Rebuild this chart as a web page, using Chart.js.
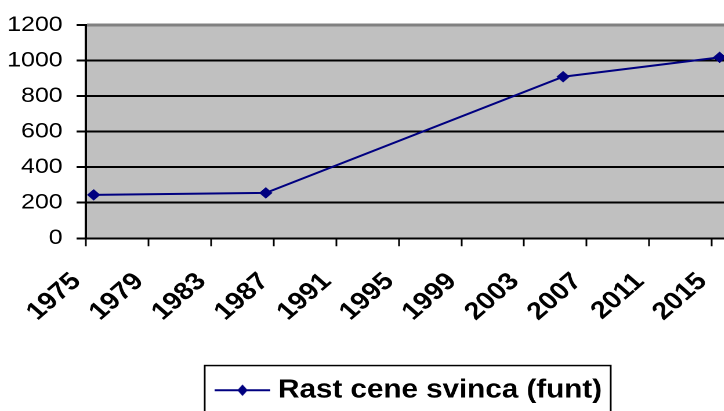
<!DOCTYPE html>
<html><head><meta charset="utf-8">
<script src="https://cdn.jsdelivr.net/npm/chart.js@4"></script>
<style>
html,body{margin:0;padding:0;overflow:hidden;background:#fff;width:724px;height:411px}
#wrap{position:absolute;left:0;top:0;width:710px;height:413px;transform:scaleX(1.16);transform-origin:0 0}
</style></head><body>
<div id="wrap"><canvas id="c" width="710" height="413"></canvas></div>
<script>
// ---- data ----
const years = [1975, 1986, 2005, 2015];
const prices = [244, 255, 909, 1018];
const xTickYears = [1975, 1979, 1983, 1987, 1991, 1995, 1999, 2003, 2007, 2011, 2015];
const yTickValues = [0, 200, 400, 600, 800, 1000, 1200];
const seriesLabel = 'Rast cene svinca (funt)';

const NAVY = '#000080';
const FONT = "'Liberation Sans', Arial, Helvetica, sans-serif";

// legend symbol: line with a diamond
const sym = document.createElement('canvas');
sym.width = 96; sym.height = 28;
const sctx = sym.getContext('2d');
sctx.scale(2, 2);
sctx.strokeStyle = NAVY; sctx.lineWidth = 2;
sctx.beginPath(); sctx.moveTo(0, 7); sctx.lineTo(48, 7); sctx.stroke();
sctx.fillStyle = NAVY;
sctx.beginPath();
sctx.moveTo(24 - 4.5, 7); sctx.lineTo(24, 7 - 5.8); sctx.lineTo(24 + 4.5, 7); sctx.lineTo(24, 7 + 5.8);
sctx.closePath(); sctx.fill();
const symImg = new Image();
symImg.width = 48; symImg.height = 14;

const plotBg = {
  id: 'plotBg',
  beforeDraw(chart) {
    const {ctx, chartArea: a} = chart;
    ctx.save();
    ctx.fillStyle = '#C0C0C0';
    ctx.fillRect(a.left, a.top, a.right - a.left, a.bottom - a.top);
    ctx.restore();
  }
};
const legendBorder = {
  id: 'legendBorder',
  afterDraw(chart) {
    const hb = chart.legend.legendHitBoxes && chart.legend.legendHitBoxes[0];
    if (!hb) return;
    const ctx = chart.ctx;
    ctx.save();
    ctx.strokeStyle = '#000';
    ctx.lineWidth = 1.5;
    const l = hb.left - 14.6, r = hb.left + hb.width + 7.5, t = hb.top + hb.height / 2 - 24.7;
    ctx.strokeRect(l, t, r - l, chart.height + 20 - t);
    ctx.restore();
  }
};

function build() {
  new Chart(document.getElementById('c'), {
    type: 'line',
    data: {
      datasets: [{
        label: seriesLabel,
        // each year spans [year, year+1]; the marker sits in the middle of its year
        data: years.map((yr, i) => ({x: yr + 0.5, y: prices[i]})),
        borderColor: NAVY,
        backgroundColor: NAVY,
        borderWidth: 2,
        pointStyle: 'rectRot',
        pointRadius: 5.5,
        pointBorderWidth: 0.5,
        pointBackgroundColor: NAVY,
        pointBorderColor: NAVY,
        tension: 0,
        clip: false
      }]
    },
    options: {
      responsive: false,
      animation: false,
      devicePixelRatio: 2,
      layout: {padding: {top: 25, left: 0, right: 0, bottom: 0}},
      plugins: {
        legend: {
          position: 'bottom',
          labels: {
            usePointStyle: true,
            pointStyleWidth: 36,
            padding: 10,
            color: '#000',
            font: {family: FONT, size: 25.5, weight: 'bold'},
            generateLabels: () => [{
              text: seriesLabel, pointStyle: symImg, fillStyle: NAVY, strokeStyle: NAVY,
              lineWidth: 0, hidden: false, datasetIndex: 0, fontColor: '#000'
            }]
          }
        },
        tooltip: {enabled: false}
      },
      scales: {
        x: {
          type: 'linear',
          min: 1975,
          max: 2021.7,
          afterBuildTicks: s => { s.ticks = xTickYears.map(v => ({value: v})); },
          afterFit: s => { s.height = 129.25; },
          grid: {drawOnChartArea: false, drawTicks: true, tickLength: 8, tickColor: '#000', tickWidth: 1.5, color: '#000'},
          border: {display: true, color: '#000', width: 2},
          ticks: {
            autoSkip: false, maxRotation: 45, minRotation: 45, padding: 21, labelOffset: -8,
            color: '#000', font: {family: FONT, size: 24.5, weight: 'bold'},
            callback: v => String(v)
          }
        },
        y: {
          min: 0,
          max: 1200,
          afterBuildTicks: s => { s.ticks = yTickValues.map(v => ({value: v})); },
          afterFit: s => { s.width = 74; },
          grid: {
            color: c => (c.tick && c.tick.value === 1200) ? '#808080' : '#000',
            lineWidth: c => (c.tick && c.tick.value === 1200) ? 3 : 2,
            tickColor: '#000', tickWidth: 2, tickLength: 8
          },
          border: {display: true, color: '#000', width: 2},
          ticks: {padding: 12, color: '#000', font: {family: FONT, size: 21.5}, callback: v => String(v)}
        }
      }
    },
    plugins: [plotBg, legendBorder]
  });
}
symImg.onload = build;
symImg.src = sym.toDataURL();
</script>
</body></html>
